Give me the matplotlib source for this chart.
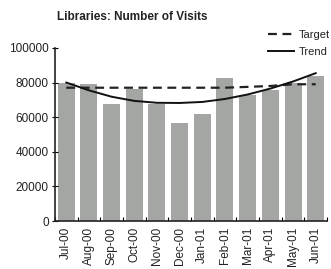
import matplotlib
matplotlib.use("Agg")
import matplotlib.pyplot as plt
import numpy as np

months = ["Jul-00", "Aug-00", "Sep-00", "Oct-00", "Nov-00", "Dec-00",
          "Jan-01", "Feb-01", "Mar-01", "Apr-01", "May-01", "Jun-01"]
visits = [79800, 79400, 67600, 76500, 67400, 56600,
          62000, 82700, 73000, 75900, 79800, 83700]
target = [77000, 77000, 77000, 77000, 77000, 77000,
          77000, 77000, 77500, 78000, 79000, 79000]
trend = [80000, 75500, 71800, 69400, 68300, 68200,
         68800, 70500, 73100, 76500, 80600, 85400]
yticks = [0, 20000, 40000, 60000, 80000, 100000]

plt.rcParams['font.family'] = ['Liberation Sans', 'DejaVu Sans']

fig = plt.figure(figsize=(3.31, 2.69), dpi=100)
ax = fig.add_axes([0.166, 0.178, 0.822, 0.644])

x = np.arange(len(months))
ax.bar(x, visits, width=0.75, color="#a3a6a3", zorder=1)
tl, = ax.plot(x, target, color="#222222", lw=1.6, linestyle=(0, (4, 2.5)), zorder=3)
tr, = ax.plot(x, trend, color="#111111", lw=1.4, zorder=3)

ax.set_xlim(-0.5, 11.5)
ax.set_ylim(0, 100000)
ax.set_yticks(yticks)
ax.set_yticklabels([str(v) for v in yticks], fontsize=8.5, color='#222222')
ax.set_xticks(x)
ax.set_xticklabels(months, rotation=90, fontsize=8.5, color='#222222')
ax.set_xticks(np.arange(len(months) + 1) - 0.5, minor=True)
ax.tick_params(axis='x', which='major', length=0, pad=4)
ax.tick_params(axis='x', which='minor', direction='in', length=3, width=0.8)
ax.tick_params(axis='y', direction='inout', length=5, width=0.8, pad=2)

for s in ['top', 'right']:
    ax.spines[s].set_visible(False)
for s in ['left', 'bottom']:
    ax.spines[s].set_linewidth(1.2)
    ax.spines[s].set_color('#222222')

fig.text(0.172, 0.935, "Libraries: Number of Visits", fontsize=8.5,
         fontweight='bold', ha='left', va='center', color='#222222')

fig.legend([tl, tr], ["Target", "Trend"], loc='upper right',
           bbox_to_anchor=(1.0, 0.892), frameon=False, fontsize=8,
           handlelength=2.4, handletextpad=0.4, labelspacing=0.65,
           borderpad=0.1, borderaxespad=0.0, labelcolor='#222222')

fig.savefig("out.png", dpi=100)
